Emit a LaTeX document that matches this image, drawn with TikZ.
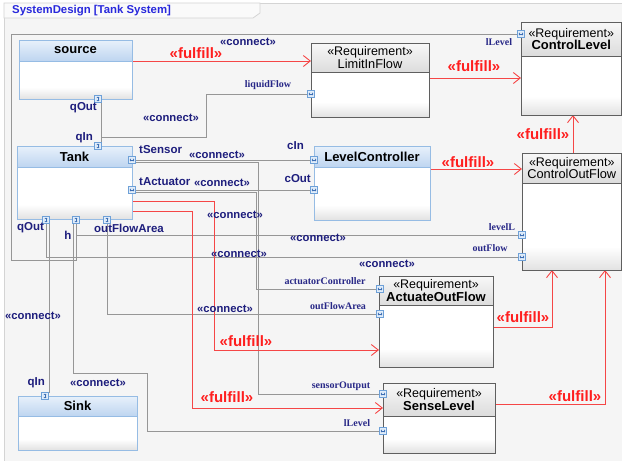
\documentclass[tikz,border=0pt]{standalone}
\usepackage{fontspec}
\setmainfont{Liberation Sans}
\newfontfamily\portserif{Liberation Serif}
\usetikzlibrary{arrows.meta}

\definecolor{frameBg}{RGB}{245,245,245}
\definecolor{frameLine}{RGB}{212,212,212}
\definecolor{tabBg}{RGB}{250,250,250}
\definecolor{titleBlue}{RGB}{40,40,220}
\definecolor{navy}{RGB}{30,30,125}
\definecolor{portNavy}{RGB}{40,40,135}
\definecolor{fulRed}{RGB}{255,30,30}
\definecolor{fulLine}{RGB}{245,70,70}
\definecolor{lineGray}{RGB}{150,150,150}
\definecolor{blkBorder}{RGB}{150,188,228}
\definecolor{blkTop}{RGB}{232,241,251}
\definecolor{blkBot}{RGB}{190,213,240}
\definecolor{reqBorder}{RGB}{95,95,95}
\definecolor{reqTop}{RGB}{248,248,248}
\definecolor{reqBot}{RGB}{220,220,220}
\definecolor{bodyGray}{RGB}{226,226,226}
\definecolor{portFill}{RGB}{225,237,250}
\definecolor{portLine}{RGB}{110,160,215}
\definecolor{glyphBlue}{RGB}{60,110,180}

% white body that greys only near its lower edge
\pgfdeclareverticalshading{bodyshade}{100bp}{%
  color(0bp)=(bodyGray); color(25bp)=(bodyGray);
  color(35bp)=(white); color(100bp)=(white)}

\pgfdeclarelayer{bg}
\pgfdeclarelayer{wires}
\pgfsetlayers{bg,wires,main}

\tikzset{
  conn/.style={draw=lineGray, line width=0.9pt},
  ful/.style={draw=fulLine, line width=0.9pt,
    -{Straight Barb[length=7pt,width=11pt,line width=0.9pt]}},
  blkbody/.style={draw=blkBorder, line width=0.9pt, shading=bodyshade,
    inner sep=0pt, outer sep=0pt},
  blkhead/.style={draw=blkBorder, line width=0.9pt, top color=blkTop,
    bottom color=blkBot, inner sep=0pt, outer sep=0pt,
    font=\fontsize{13}{13}\selectfont\bfseries},
  reqbody/.style={draw=reqBorder, line width=0.9pt, shading=bodyshade,
    inner sep=0pt, outer sep=0pt},
  reqhead/.style={draw=reqBorder, line width=0.9pt, top color=reqTop,
    bottom color=reqBot, inner sep=0pt, outer sep=0pt, align=center,
    font=\fontsize{12.5}{12.5}\selectfont},
  glyph/.style={draw=glyphBlue, line width=0.6pt,
    {Straight Barb[length=0.9pt,width=2.6pt]}-{Straight Barb[length=0.9pt,width=2.6pt]}},
  port/.style={draw=portLine, fill=portFill, line width=0.6pt,
    minimum size=7pt, inner sep=0pt, outer sep=0pt},
  vport/.style={port, path picture={\draw[glyph]
    ([yshift=-1.2pt]path picture bounding box.north) --
    ([yshift=1.2pt]path picture bounding box.south);}},
  hport/.style={port, path picture={\draw[glyph]
    ([xshift=1.2pt]path picture bounding box.west) --
    ([xshift=-1.2pt]path picture bounding box.east);}},
  plab/.style={text=navy, inner sep=0pt, font=\fontsize{11.5}{11.5}\selectfont\bfseries},
  rlab/.style={text=portNavy, inner sep=0pt, font=\portserif\fontsize{10}{10}\selectfont\bfseries},
  ctxt/.style={text=navy, inner sep=0pt, font=\fontsize{11.3}{11.3}\selectfont\bfseries},
  ftxt/.style={text=fulRed, inner sep=0pt, font=\fontsize{15}{15}\selectfont\bfseries},
}

% block: name, left, top, width, height, header height, title
\newcommand\blk[7]{%
  \node[blkbody, anchor=north west, minimum width=#4pt, minimum height=#5pt] (#1) at (#2,#3) {};
  \node[blkhead, anchor=north west, minimum width=#4pt, minimum height=#6pt] (#1H) at (#2,#3) {#7};
}
% requirement: name, left, top, width, height, header height, title lines
\newcommand\req[7]{%
  \node[reqbody, anchor=north west, minimum width=#4pt, minimum height=#5pt] (#1) at (#2,#3) {};
  \node[reqhead, anchor=north west, minimum width=#4pt, minimum height=#6pt] (#1H) at (#2,#3) {#7};
}
\newcommand\stereo{«Requirement»}
\newcommand\rname[1]{{\fontsize{13}{13}\selectfont\bfseries #1}}
\newcommand\rnamelight[1]{{\fontsize{12.8}{13}\selectfont #1}}

\begin{document}
\begin{tikzpicture}[x=1pt, y=-1pt]
\useasboundingbox (0,0) rectangle (622,461);

% diagram frame and title tab
\begin{pgfonlayer}{bg}
  \fill[white] (0,0) rectangle (622,461);
  \filldraw[fill=frameBg, draw=frameLine, line width=0.8pt] (4,3) rectangle (640,480);
  \filldraw[fill=tabBg, draw=frameLine, line width=0.8pt]
    (4,3) -- (260,3) -- (260,13) -- (253,18) -- (4,18) -- cycle;
\end{pgfonlayer}
\node[anchor=west, inner sep=0pt, text=titleBlue,
  font=\fontsize{11.4}{11.4}\selectfont\bfseries] (title) at (12,11) {SystemDesign [Tank System]};

% blocks
\blk{source}{19}{40}{113}{59}{21}{source}
\blk{tank}{17}{146}{115}{73}{21}{Tank}
\blk{sink}{18}{396}{119}{54}{20}{Sink}
\blk{levelctl}{314}{146}{116}{74}{21}{LevelController}

% requirements
\req{limit}{311}{43}{118}{74}{29}{\stereo\\\rnamelight{LimitInFlow}}
\req{ctrllevel}{521}{22}{100.5}{93}{34}{\stereo\\\rname{ControlLevel}}
\req{ctrlout}{522}{153}{99.5}{117}{30}{\stereo\\\rnamelight{ControlOutFlow}}
\req{actuate}{379}{276}{114}{91}{29}{\stereo\\\rname{ActuateOutFlow}}
\req{sense}{383}{383}{112}{70}{33}{\stereo\\\rname{SenseLevel}}

% ports
\node[vport] (sqOut) at (98,99) {};
\node[vport] (tqIn) at (98,146) {};
\node[vport] (tqOut) at (46,220) {};
\node[vport] (th) at (76,220) {};
\node[vport] (tofa) at (107,220) {};
\node[vport] (kqIn) at (45,396) {};
\node[hport] (tsen) at (132,160) {};
\node[hport] (tact) at (132,190) {};
\node[hport] (lcIn) at (314,160) {};
\node[hport] (lcOut) at (314,190) {};
\node[hport] (lf) at (311,94) {};
\node[hport] (cll) at (521,34) {};
\node[hport] (lvl) at (522,235) {};
\node[hport] (of) at (522,257) {};
\node[hport] (ac) at (380,289) {};
\node[hport] (aofa) at (380,314) {};
\node[hport] (so) at (383,394) {};
\node[hport] (sll) at (383,431) {};

% connectors between ports
\begin{pgfonlayer}{wires}
  \draw[conn] ([xshift=3.5pt]sqOut.south) -- ([xshift=3.5pt]tqIn.north);
  \draw[conn] ([xshift=3.5pt]sqOut.south) |- (206,137) |- (lf.west);
  \draw[conn] (th.south) |- (11,260) |- (cll.west);
  \draw[conn] (th.south) |- (lvl.west);
  \draw[conn] ([xshift=-3pt]th.south) |- (147,373) |- (sll.west);
  \draw[conn] (tqOut.south) |- (of.west);
  \draw[conn] ([xshift=3pt]tqOut.south) -- ([xshift=4pt]kqIn.north);
  \draw[conn] (tofa.south) |- (aofa.west);
  \draw[conn] (tsen.east) -- (lcIn.west);
  \draw[conn] ([yshift=-2pt]tsen.east) -| (258.5,394) -- (so.west);
  \draw[conn] (tact.east) -- (lcOut.west);
  \draw[conn] ([yshift=-2pt]tact.east) -| (256,289) -- (ac.west);

  % fulfil relations
  \draw[ful] (source.east |- 0,61) -- (limit.west |- 0,61);
  \draw[ful] (limit.east |- 0,78) -- (ctrllevel.west |- 0,78);
  \draw[ful] (ctrlout.north -| 573,0) -- (ctrllevel.south -| 573,0);
  \draw[ful] (levelctl.east |- 0,169) -- (ctrlout.west |- 0,169);
  \draw[ful] (tank.east |- 0,201) -| (214,350) -- (actuate.west |- 0,350);
  \draw[ful] (tank.east |- 0,211) -| (192,408) -- (sense.west |- 0,408);
  \draw[ful] (actuate.east |- 0,327) -| (ctrlout.south -| 552,0);
  \draw[ful] (sense.east |- 0,404) -| (ctrlout.south -| 605,0);
\end{pgfonlayer}

% block port labels
\node[plab, anchor=east] (lsqOut) at (97,108) {qOut};
\node[plab, anchor=east] (ltqIn) at (93,138) {qIn};
\node[plab, anchor=west] (ltsen) at (139,150) {tSensor};
\node[plab, anchor=west] (ltact) at (139,182) {tActuator};
\node[plab, anchor=east] (llcIn) at (304,146) {cIn};
\node[plab, anchor=east] (llcOut) at (311,179) {cOut};
\node[plab, anchor=west] (ltqOut) at (17,228) {qOut};
\node[plab] (lth) at (68,235) {h};
\node[plab, anchor=west] (ltofa) at (94,228) {outFlowArea};
\node[plab, anchor=east] (lkqIn) at (45,383) {qIn};

% requirement port labels
\node[rlab] (llf) at (268,85) {liquidFlow};
\node[rlab] (lcll) at (499,42) {lLevel};
\node[rlab] (llvl) at (502,227) {levelL};
\node[rlab] (lof) at (490,248) {outFlow};
\node[rlab] (lac) at (325,281) {actuatorController};
\node[rlab] (laofa) at (338,306) {outFlowArea};
\node[rlab] (lso) at (341,386) {sensorOutput};
\node[rlab] (lsll) at (357,423) {lLevel};

% connector stereotypes
\node[ctxt] (c1) at (248,42) {«connect»};
\node[ctxt] (c2) at (171,118) {«connect»};
\node[ctxt] (c3) at (217,155) {«connect»};
\node[ctxt] (c4) at (222,183) {«connect»};
\node[ctxt] (c5) at (235,215) {«connect»};
\node[ctxt] (c6) at (318,238) {«connect»};
\node[ctxt] (c7) at (239,254) {«connect»};
\node[ctxt] (c8) at (387,264) {«connect»};
\node[ctxt] (c9) at (225,309) {«connect»};
\node[ctxt] (c10) at (33,316) {«connect»};
\node[ctxt] (c11) at (98,383) {«connect»};

% fulfil stereotypes
\node[ftxt] (f1) at (196,53) {«fulfill»};
\node[ftxt] (f2) at (474,66) {«fulfill»};
\node[ftxt] (f3) at (543,134) {«fulfill»};
\node[ftxt] (f4) at (468,162) {«fulfill»};
\node[ftxt] (f5) at (246,341) {«fulfill»};
\node[ftxt] (f6) at (227,397) {«fulfill»};
\node[ftxt] (f7) at (523,317) {«fulfill»};
\node[ftxt] (f8) at (575,396) {«fulfill»};
\end{tikzpicture}
\end{document}
